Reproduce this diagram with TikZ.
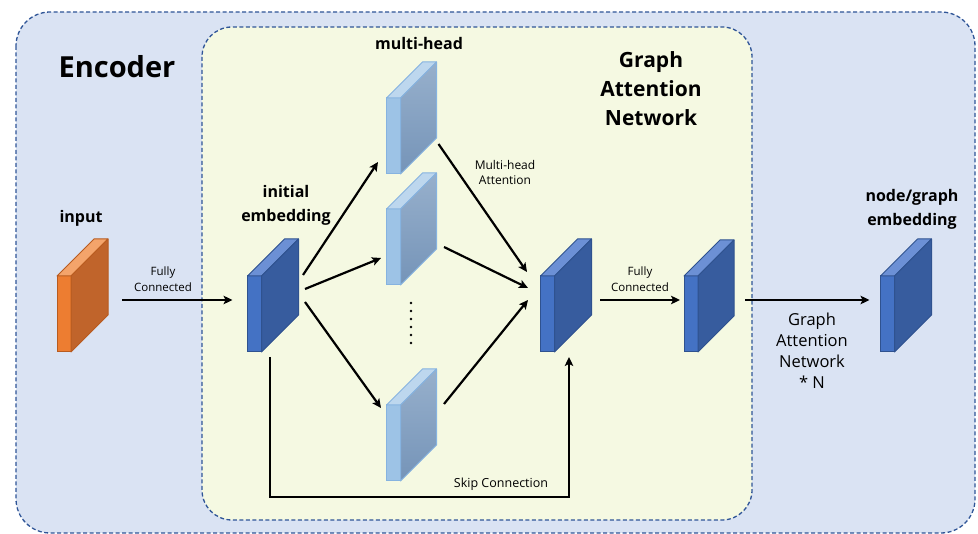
\documentclass[tikz,border=0pt]{standalone}
\usepackage{fontspec}
\setmainfont{Open Sans}
\usetikzlibrary{calc,arrows.meta}

% palettes for the slabs: front, top, side, edge
\definecolor{orFront}{HTML}{ED7D31}
\definecolor{orTop}{HTML}{F4A46B}
\definecolor{orSide}{HTML}{C0642B}
\definecolor{orEdge}{HTML}{B85B1F}
\definecolor{dbFront}{HTML}{4472C4}
\definecolor{dbTop}{HTML}{6C90D5}
\definecolor{dbSide}{HTML}{375C9E}
\definecolor{dbEdge}{HTML}{2F528F}
\definecolor{lbFront}{HTML}{9DC3E6}
\definecolor{lbTop}{HTML}{BDD7EE}
\definecolor{lbSideA}{HTML}{97B0CC}
\definecolor{lbSideB}{HTML}{7594B8}
\definecolor{lbEdge}{HTML}{86B3E0}
\definecolor{encFill}{HTML}{DAE3F3}
\definecolor{gatFill}{HTML}{F5F9E2}
\definecolor{frameCol}{HTML}{2F5597}

\tikzset{
  frame/.style={draw=frameCol, line width=1.3pt, dash pattern=on 4pt off 2.5pt},
  slabfront/.style={rectangle, minimum width=14pt, minimum height=76pt,
    inner sep=0pt, outer sep=0pt, line width=1pt},
  arr/.style={line width=2.2pt, -{Stealth[length=9pt,width=8.5pt,inset=2pt]}},
  lbl/.style={align=center, inner sep=0pt},
  bigb/.style={lbl, font=\fontsize{16}{24}\selectfont\bfseries},
  small/.style={lbl, font=\fontsize{11.5}{16}\selectfont},
}

% a 3-D slab: #1 name, #2 centre of the front face, #3 depth, #4 palette
\newcommand\slab[4]{%
  \node[slabfront, fill=#4Front, draw=#4Edge] (#1) at (#2) {};
  \filldraw[fill=#4Top, draw=#4Edge, line width=1pt, line join=round]
    (#1.north west) -- (#1.north east) -- ++(#3,-#3)
    -- ($(#1.north west)+(#3,-#3)$) -- cycle;
  \filldraw[fill=#4Side, draw=#4Edge, line width=1pt, line join=round]
    (#1.north east) -- (#1.south east) -- ++(#3,-#3)
    -- ($(#1.north east)+(#3,-#3)$) -- cycle;
}
% the same slab with a shaded side face
\newcommand\headslab[3]{%
  \node[slabfront, fill=lbFront, draw=lbEdge] (#1) at (#2) {};
  \filldraw[fill=lbTop, draw=lbEdge, line width=1pt, line join=round]
    (#1.north west) -- (#1.north east) -- ++(#3,-#3)
    -- ($(#1.north west)+(#3,-#3)$) -- cycle;
  \shade[top color=lbSideA, bottom color=lbSideB]
    (#1.north east) -- (#1.south east) -- ++(#3,-#3)
    -- ($(#1.north east)+(#3,-#3)$) -- cycle;
  \draw[draw=lbEdge, line width=1pt, line join=round]
    (#1.north east) -- (#1.south east) -- ++(#3,-#3)
    -- ($(#1.north east)+(#3,-#3)$) -- cycle;
}

\begin{document}
\begin{tikzpicture}[x=1pt, y=-1pt]
\useasboundingbox (0,0) rectangle (978,534);

% encoder and graph attention frames
\filldraw[frame, fill=encFill, rounded corners=34pt] (16,12) rectangle (975,533);
\filldraw[frame, fill=gatFill, rounded corners=30pt] (202,27) rectangle (752,520);

% titles
\node[lbl, font=\fontsize{29}{34}\selectfont\bfseries] (enc) at (117,67) {Encoder};
\node[lbl, font=\fontsize{21}{29}\selectfont\bfseries] (gatt) at (651,89) {Graph\\Attention\\Network};

% slabs
\slab{input}{64,314}{37}{or}
\slab{emb}{254.5,314}{37}{db}
\headslab{head1}{393.5,136}{36}
\headslab{head2}{393.5,247}{36}
\headslab{head3}{393.5,443}{36}
\slab{gat}{547.5,314}{37}{db}
\slab{fc}{691,314}{36}{db}
\slab{out}{887.5,314}{37}{db}

% block labels
\node[bigb] (tin) at (81,218) {input};
\node[bigb] (temb) at (286,205) {initial\\embedding};
\node[bigb] (tmh) at (419,44) {multi-head};
\node[bigb] (tout) at (912,209) {node/graph\\embedding};

% ellipsis between the heads
\foreach \k in {0,...,5}
  \fill (411,303+8*\k) circle (1.4pt);
\coordinate (dots) at (411,323);

% connectors
\draw[arr] ($(input.east)+(51,-14)$) -- ($(emb.west)+(-15,-14)$);
\node[small] (fc1) at (163,279) {Fully\\Connected};

\draw[arr] ($(emb.east)+(41.5,-39)$) -- ($(head1.west)+(-8.5,26)$);
\draw[arr] ($(emb.east)+(43.5,-25)$) -- ($(head2.west)+(-5.5,11)$);
\draw[arr] ($(emb.east)+(43.5,-12)$) -- ($(head3.west)+(-5.5,-35)$);

\draw[arr] ($(head1.east)+(38,8)$) -- ($(gat.west)+(-13.5,-42)$);
\draw[arr] ($(head2.east)+(43.5,0)$) -- ($(gat.west)+(-12.5,-26)$);
\draw[arr] ($(head3.east)+(43.5,-39)$) -- ($(gat.west)+(-12.5,-14)$);
\node[small, font=\fontsize{12}{15}\selectfont] (mha) at (505,173) {Multi-head\\Attention};

\draw[arr, line join=miter] ($(emb.south)+(15.5,5)$) |- ($(gat.south)+(21.5,145)$)
  -- ($(gat.south)+(21.5,5)$);
\node[small, font=\fontsize{12.5}{15}\selectfont] (skip) at (501,484) {Skip Connection};

\draw[arr] ($(gat.east)+(45.5,-14)$) -- ($(fc.west)+(-4,-14)$);
\node[small] (fc2) at (640,279) {Fully\\Connected};

\draw[arr] ($(fc.east)+(47,-14)$) -- ($(out.west)+(-11,-14)$);
\node[lbl, font=\fontsize{16.5}{21}\selectfont] (gatn) at (812,351) {Graph\\Attention\\Network\\* N};
\end{tikzpicture}
\end{document}
